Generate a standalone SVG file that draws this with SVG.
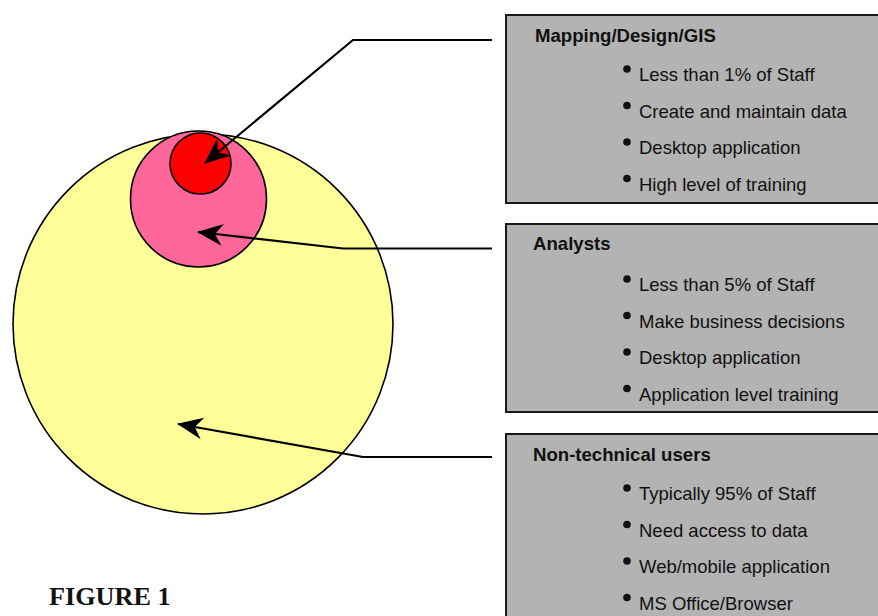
<svg xmlns="http://www.w3.org/2000/svg" width="878" height="616" viewBox="0 0 878 616">
<style>
.box{fill:#b3b3b3;stroke:#1a1a1a;stroke-width:2}
.ttl{font-family:"Liberation Sans",Arial,sans-serif;font-weight:bold;font-size:18.6px;fill:#111}
.item{font-family:"Liberation Sans",Arial,sans-serif;font-size:18.5px;fill:#111}
.dot{fill:#111}
.circ{stroke:#000;stroke-width:1.6}
.conn{fill:none;stroke:#000;stroke-width:2.2;marker-end:url(#arr)}
.fig{font-family:"Liberation Serif","Times New Roman",serif;font-weight:bold;font-size:26.2px;fill:#111}
</style>
<defs>
<marker id="arr" viewBox="0 0 26 22" refX="25" refY="11" markerWidth="26" markerHeight="22" markerUnits="userSpaceOnUse" orient="auto">
<path d="M26,11 L0,0 L8,11 L0,22 Z" fill="#000"/>
</marker>
</defs>
<rect width="878" height="616" fill="#fff"/>
<g id="circles">
<circle id="nontech-circle" class="circ" cx="203" cy="324" r="190" fill="#ffff99"/>
<circle id="analysts-circle" class="circ" cx="198.5" cy="199" r="68" fill="#ff6699"/>
<circle id="mapping-circle" class="circ" cx="200.5" cy="163.5" r="30.5" fill="#ff0000"/>
</g>
<g id="box-mapping">
<rect class="box" x="506" y="15" width="380" height="188"/>
<text class="ttl" x="535" y="42">Mapping/Design/GIS</text>
<circle class="dot" cx="627" cy="69" r="3.8"/><text class="item" x="639" y="81">Less than 1% of Staff</text>
<circle class="dot" cx="627" cy="105.5" r="3.8"/><text class="item" x="639" y="117.5">Create and maintain data</text>
<circle class="dot" cx="627" cy="142" r="3.8"/><text class="item" x="639" y="154">Desktop application</text>
<circle class="dot" cx="627" cy="178.5" r="3.8"/><text class="item" x="639" y="190.5">High level of training</text>
</g>
<g id="box-analysts">
<rect class="box" x="506" y="224" width="380" height="188"/>
<text class="ttl" x="533" y="250">Analysts</text>
<circle class="dot" cx="627" cy="279" r="3.8"/><text class="item" x="639" y="291">Less than 5% of Staff</text>
<circle class="dot" cx="627" cy="315.5" r="3.8"/><text class="item" x="639" y="327.5">Make business decisions</text>
<circle class="dot" cx="627" cy="352" r="3.8"/><text class="item" x="639" y="364">Desktop application</text>
<circle class="dot" cx="627" cy="388.5" r="3.8"/><text class="item" x="639" y="400.5">Application level training</text>
</g>
<g id="box-nontech">
<rect class="box" x="506" y="434" width="380" height="200"/>
<text class="ttl" x="533" y="461">Non-technical users</text>
<circle class="dot" cx="627" cy="488" r="3.8"/><text class="item" x="639" y="500">Typically 95% of Staff</text>
<circle class="dot" cx="627" cy="524.5" r="3.8"/><text class="item" x="639" y="536.5">Need access to data</text>
<circle class="dot" cx="627" cy="561" r="3.8"/><text class="item" x="639" y="573">Web/mobile application</text>
<circle class="dot" cx="627" cy="597.5" r="3.8"/><text class="item" x="639" y="609.5">MS Office/Browser</text>
</g>
<g id="connectors">
<polyline class="conn" points="492,40 353,40 205,163"/>
<polyline class="conn" points="492,248.5 343,248.5 198,232"/>
<polyline class="conn" points="492,457 363,457 178,424"/>
</g>
<text class="fig" x="49" y="605">FIGURE 1</text>
</svg>
